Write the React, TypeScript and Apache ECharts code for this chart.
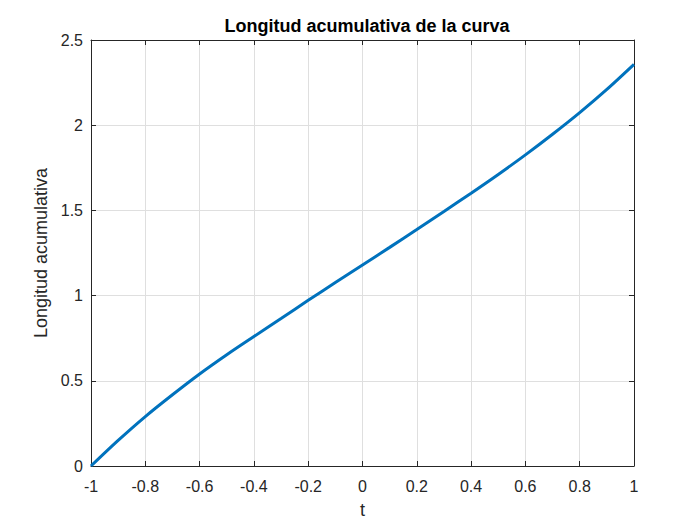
import React, { useEffect, useRef } from "react";
import * as echarts from "echarts";

const tValues = [-1, -0.9, -0.8, -0.7, -0.6, -0.5, -0.4, -0.3, -0.2, -0.1, 0, 0.1, 0.2, 0.3, 0.4, 0.5, 0.6, 0.7, 0.8, 0.9, 1];
const lengthValues = [0, 0.15, 0.29, 0.418, 0.54, 0.653, 0.76, 0.866, 0.972, 1.077, 1.18, 1.283, 1.388, 1.494, 1.601, 1.711, 1.826, 1.947, 2.074, 2.21, 2.357];
const titleText = "Longitud acumulativa de la curva";
const xName = "t";
const yName = "Longitud acumulativa";

export default function App() {
  const ref = useRef<HTMLDivElement>(null);
  useEffect(() => {
    if (!ref.current) return;
    const chart = echarts.init(ref.current, null, { renderer: "svg" });
    const font = "Liberation Sans, Arial, Helvetica, sans-serif";
    const axisColor = "#262626";
    const data = tValues.map((t, i) => [t, lengthValues[i]]);
    chart.setOption({
      animation: false,
      backgroundColor: "#ffffff",
      title: {
        text: titleText,
        left: 362,
        top: 12,
        textAlign: "center",
        textStyle: { fontFamily: font, fontSize: 18, fontWeight: "bold", color: "#000" },
      },
      grid: { left: 91, right: 66, top: 40, bottom: 59, containLabel: false },
      xAxis: [
        {
          type: "value",
          min: -1,
          max: 1,
          interval: 0.2,
          position: "bottom",
          name: xName,
          nameLocation: "middle",
          nameGap: 35,
          nameTextStyle: { fontFamily: font, fontSize: 18, color: axisColor },
          axisLine: { show: true, onZero: false, lineStyle: { color: axisColor, width: 1 } },
          axisTick: { show: true, inside: true, length: 5, lineStyle: { color: axisColor } },
          axisLabel: { fontFamily: font, fontSize: 16, color: axisColor, margin: 12 },
          splitLine: { show: true, lineStyle: { color: "#dfdfdf", width: 1 } },
        },
        {
          type: "value",
          min: -1,
          max: 1,
          interval: 0.2,
          position: "top",
          axisLine: { show: true, onZero: false, lineStyle: { color: axisColor, width: 1 } },
          axisTick: { show: true, inside: true, length: 5, lineStyle: { color: axisColor } },
          axisLabel: { show: false },
          splitLine: { show: false },
        },
      ],
      yAxis: [
        {
          type: "value",
          min: 0,
          max: 2.5,
          interval: 0.5,
          position: "left",
          name: yName,
          nameLocation: "middle",
          nameGap: 40,
          nameTextStyle: { fontFamily: font, fontSize: 18, color: axisColor },
          axisLine: { show: true, onZero: false, lineStyle: { color: axisColor, width: 1 } },
          axisTick: { show: true, inside: true, length: 5, lineStyle: { color: axisColor } },
          axisLabel: { fontFamily: font, fontSize: 16, color: axisColor, margin: 8 },
          splitLine: { show: true, lineStyle: { color: "#dfdfdf", width: 1 } },
        },
        {
          type: "value",
          min: 0,
          max: 2.5,
          interval: 0.5,
          position: "right",
          axisLine: { show: true, onZero: false, lineStyle: { color: axisColor, width: 1 } },
          axisTick: { show: true, inside: true, length: 5, lineStyle: { color: axisColor } },
          axisLabel: { show: false },
          splitLine: { show: false },
        },
      ],
      series: [
        {
          type: "line",
          xAxisIndex: 0,
          yAxisIndex: 0,
          data,
          smooth: 0.3,
          showSymbol: false,
          symbol: "none",
          lineStyle: { color: "#0072BD", width: 3 },
        },
      ],
    });
    return () => chart.dispose();
  }, []);
  return <div ref={ref} style={{ width: 700, height: 525, position: "absolute", left: 0, top: 0 }} />;
}
